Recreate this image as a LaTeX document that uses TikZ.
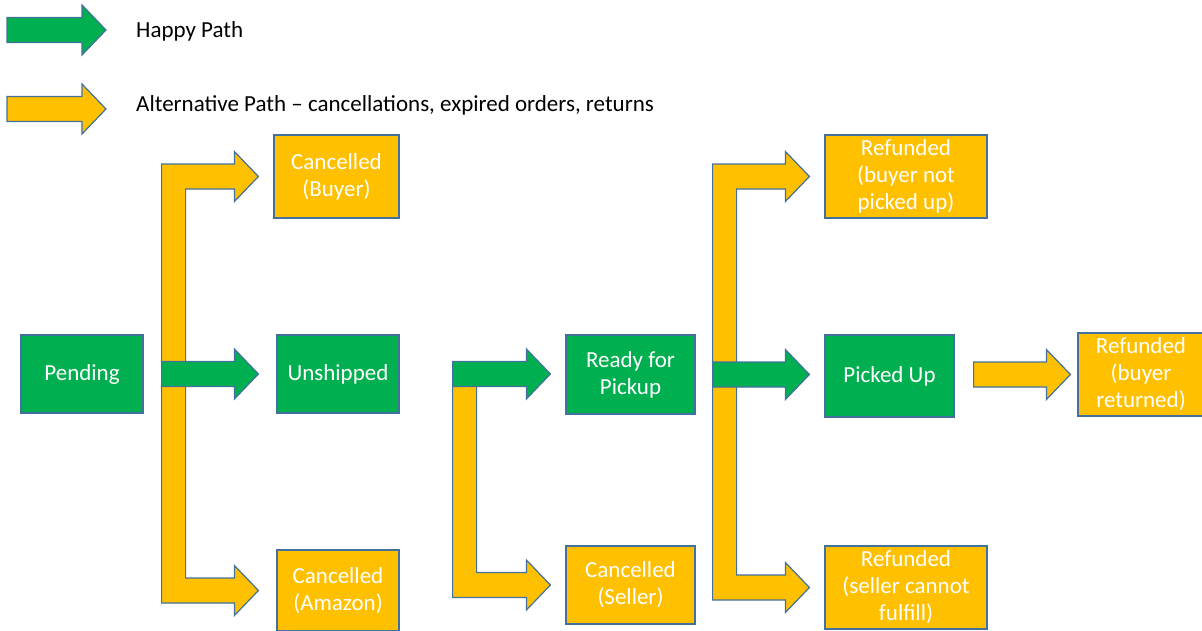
\documentclass[tikz,border=0pt]{standalone}
\usepackage{fontspec}
\setmainfont{Carlito}
\usetikzlibrary{calc}

\definecolor{happygreen}{HTML}{00B050}
\definecolor{altyellow}{HTML}{FFC000}
\definecolor{edgeblue}{HTML}{41719C}

\tikzset{
  state/.style={draw=edgeblue, line width=1.2pt, text=white, align=center,
    inner sep=0pt, font=\fontsize{23}{27}\selectfont},
  happy/.style={state, fill=happygreen},
  alt/.style={state, fill=altyellow},
  legendtext/.style={anchor=west, inner sep=0pt, font=\fontsize{23}{27}\selectfont},
  blk/.style={draw=edgeblue, line width=1.2pt, line join=miter},
}

% straight block arrow: fill, tail, tip
\newcommand{\blockarrow}[3]{%
  \path[blk, fill=#1] let \p1=#2, \p2=#3 in
    (\x1,\y1+12.5pt) -- (\x2-24pt,\y1+12.5pt) -- (\x2-24pt,\y1+25pt) -- (\x2,\y1)
    -- (\x2-24pt,\y1-25pt) -- (\x2-24pt,\y1-12.5pt) -- (\x1,\y1-12.5pt) -- cycle;}

% fork block arrow: fill, top tip, bottom tip, spine
\newcommand{\forkarrow}[4]{%
  \path[blk, fill=#1] let \p1=#2, \p2=#3, \p3=#4 in
    (\x3,\y1+12.5pt) -- (\x1-24pt,\y1+12.5pt) -- (\x1-24pt,\y1+25pt) -- (\x1,\y1)
    -- (\x1-24pt,\y1-25pt) -- (\x1-24pt,\y1-12.5pt) -- (\x3+24pt,\y1-12.5pt)
    -- (\x3+24pt,\y2+12.5pt) -- (\x2-24pt,\y2+12.5pt) -- (\x2-24pt,\y2+25pt) -- (\x2,\y2)
    -- (\x2-24pt,\y2-25pt) -- (\x2-24pt,\y2-12.5pt) -- (\x3,\y2-12.5pt) -- cycle;}

% bent block arrow going down: fill, bottom tip, spine
\newcommand{\bendarrow}[3]{%
  \path[blk, fill=#1] let \p2=#2, \p3=#3 in
    (\x3,\y3) -- (\x3+24pt,\y3)
    -- (\x3+24pt,\y2+12.5pt) -- (\x2-24pt,\y2+12.5pt) -- (\x2-24pt,\y2+25pt) -- (\x2,\y2)
    -- (\x2-24pt,\y2-25pt) -- (\x2-24pt,\y2-12.5pt) -- (\x3,\y2-12.5pt) -- cycle;}

\begin{document}
\begin{tikzpicture}[x=1pt, y=-1pt]

	\useasboundingbox (0,0) rectangle (1202,630);

	% Legend
	\coordinate (hp) at (7,30);
	\coordinate (ap) at (7,109);
	\blockarrow{happygreen}{(hp)}{($(hp)+(99,0)$)}
	\blockarrow{altyellow}{(ap)}{($(ap)+(99,0)$)}
	\node[legendtext] (hptext) at (136,31) {Happy Path};
	\node[legendtext] (aptext) at (136,105) {Alternative Path -- cancellations, expired orders, returns};

	% States
	\node[happy, minimum width=122pt, minimum height=78pt] (pend) at (82,374) {Pending};
	\node[happy, minimum width=122pt, minimum height=78pt] (unsh) at (338,374) {Unshipped};
	\node[alt, minimum width=125pt, minimum height=83pt] (cbuy) at (336.5,176.5) {Cancelled\\(Buyer)};
	\node[alt, minimum width=122pt, minimum height=81pt] (camz) at (338,590.5) {Cancelled\\(Amazon)};

	\node[happy, minimum width=129pt, minimum height=79pt] (ready) at (630.5,374.5) {Ready for\\Pickup};
	\node[alt, minimum width=129pt, minimum height=78pt] (csel) at (630.5,585) {Cancelled\\(Seller)};

	\node[alt, minimum width=162pt, minimum height=83pt] (rnot) at (906,176.5) {Refunded\\(buyer not\\picked up)};
	\node[happy, minimum width=129pt, minimum height=82pt] (pick) at (889.5,376) {Picked Up};
	\node[alt, minimum width=162pt, minimum height=83pt] (rsel) at (906,587.5) {Refunded\\(seller cannot\\fulfill)};
	\node[alt, minimum width=126pt, minimum height=83pt] (rret) at (1141,374.5) {Refunded\\(buyer\\returned)};

	% Pending -> Unshipped / cancelled
	\coordinate (fork1) at ($(pend.east)+(18,0)$);
	\forkarrow{altyellow}{($(cbuy.west)+(-15,0)$)}{($(camz.west)+(-18,0)$)}{(fork1)}
	\blockarrow{happygreen}{(fork1)}{($(unsh.west)+(-18,0)$)}

	% Unshipped -> Ready for Pickup / cancelled
	\coordinate (fork2) at ($(unsh.east)+(53,0)$);
	\bendarrow{altyellow}{($(csel.west)+(-15,0)$)}{(fork2)}
	\blockarrow{happygreen}{(fork2)}{($(ready.west)+(-15,0)$)}

	% Ready for Pickup -> Picked Up / refunds
	\coordinate (fork3) at ($(ready.east)+(17,0)$);
	\forkarrow{altyellow}{($(rnot.west)+(-15,0)$)}{($(rsel.west)+(-15,0)$)}{(fork3)}
	\blockarrow{happygreen}{(fork3)}{($(pick.west)+(-15,0)$)}

	% Picked Up -> returned
	\blockarrow{altyellow}{($(pick.east)+(19,-1.5)$)}{($(rret.west)+(-7,0)$)}

\end{tikzpicture}
\end{document}
